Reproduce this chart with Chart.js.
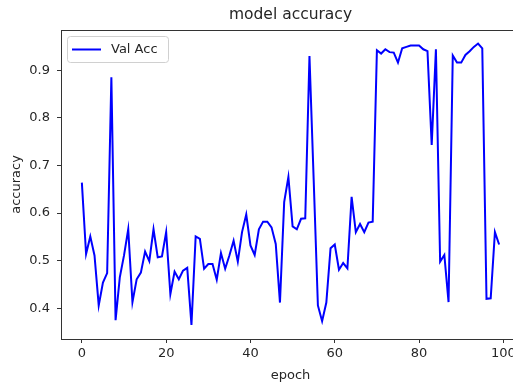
<!DOCTYPE html>
<html lang="en">
<head>
    <meta charset="UTF-8">
    <title>model accuracy</title>
    <script src="https://cdn.jsdelivr.net/npm/chart.js"></script>
    <style>
        html, body { margin: 0; padding: 0; background: #fff; overflow: hidden; }
        #wrap { width: 513px; height: 383px; overflow: hidden; }
    </style>
</head>
<body>
    <div id="wrap">
        <canvas id="acc-chart" width="522" height="383"></canvas>
    </div>

    <script>
        // validation accuracy per epoch
        const valAcc = [
            0.664, 0.514, 0.551, 0.511, 0.406, 0.454, 0.474, 0.885, 0.375, 0.465,
            0.511, 0.566, 0.413, 0.461, 0.475, 0.519, 0.499, 0.566, 0.507, 0.509,
            0.560, 0.430, 0.477, 0.461, 0.479, 0.485, 0.365, 0.551, 0.546, 0.483,
            0.493, 0.493, 0.460, 0.516, 0.483, 0.511, 0.542, 0.498, 0.560, 0.597,
            0.532, 0.512, 0.566, 0.582, 0.582, 0.570, 0.535, 0.412, 0.623, 0.676,
            0.572, 0.566, 0.588, 0.589, 0.930, 0.670, 0.406, 0.373, 0.412, 0.526,
            0.534, 0.481, 0.495, 0.484, 0.634, 0.560, 0.577, 0.560, 0.580, 0.582,
            0.942, 0.935, 0.944, 0.938, 0.937, 0.916, 0.946, 0.949, 0.952, 0.952,
            0.952, 0.944, 0.940, 0.743, 0.944, 0.498, 0.512, 0.413, 0.931, 0.916,
            0.916, 0.932, 0.940, 0.949, 0.956, 0.946, 0.420, 0.421, 0.560, 0.534
        ];
        const epochs = valAcc.map((v, i) => i);
        const xTicks = [0, 20, 40, 60, 80, 100];
        const yTicks = [0.4, 0.5, 0.6, 0.7, 0.8, 0.9];

        const FONT = "'DejaVu Sans', sans-serif";
        const TEXT = '#262626';

        // frame, title and legend box like matplotlib
        const decorations = {
            id: 'decorations',
            afterDatasetsDraw(chart) {
                const { ctx, chartArea: a } = chart;
                ctx.save();
                ctx.strokeStyle = '#333';
                ctx.lineWidth = 1;
                ctx.strokeRect(Math.round(a.left) + 0.5, Math.round(a.top) + 0.5,
                    Math.round(a.right - a.left), Math.round(a.bottom - a.top));

                // legend
                const bx = 67.5, by = 36.5, bw = 101, bh = 26, r = 3;
                ctx.fillStyle = 'rgba(255,255,255,0.8)';
                ctx.strokeStyle = '#d0d0d0';
                ctx.beginPath();
                ctx.roundRect(bx, by, bw, bh, r);
                ctx.fill();
                ctx.stroke();
                ctx.strokeStyle = '#0000ff';
                ctx.lineWidth = 2;
                ctx.beginPath();
                ctx.moveTo(72, 49.5);
                ctx.lineTo(101, 49.5);
                ctx.stroke();
                ctx.fillStyle = TEXT;
                ctx.font = '13px ' + FONT;
                ctx.textBaseline = 'middle';
                ctx.textAlign = 'left';
                ctx.fillText('Val Acc', 111, 50);

                // title
                ctx.font = '15.5px ' + FONT;
                ctx.textAlign = 'center';
                ctx.fillText('model accuracy', (a.left + a.right) / 2, 15);
                ctx.restore();
            }
        };

        const ctx = document.getElementById('acc-chart').getContext('2d');
        new Chart(ctx, {
            type: 'line',
            data: {
                labels: epochs,
                datasets: [{
                    label: 'Val Acc',
                    data: epochs.map((e, i) => ({ x: e, y: valAcc[i] })),
                    borderColor: '#0000ff',
                    borderWidth: 2,
                    pointRadius: 0,
                    tension: 0,
                    fill: false
                }]
            },
            options: {
                responsive: false,
                animation: false,
                devicePixelRatio: 1,
                layout: { padding: { top: 30, right: 2, left: 0, bottom: 0 } },
                plugins: {
                    legend: { display: false },
                    title: { display: false },
                    tooltip: { enabled: false }
                },
                scales: {
                    x: {
                        type: 'linear',
                        min: -4.95,
                        max: 103.95,
                        afterBuildTicks: s => { s.ticks = xTicks.map(v => ({ value: v })); },
                        afterFit: s => { s.height = 44; },
                        grid: { drawOnChartArea: false, drawTicks: true, tickLength: 4, color: '#333' },
                        border: { display: false },
                        ticks: { color: TEXT, font: { family: FONT, size: 13 }, padding: 3, maxRotation: 0 },
                        title: { display: true, text: 'epoch', color: TEXT, font: { family: FONT, size: 13 }, padding: { top: 0, bottom: 0 } }
                    },
                    y: {
                        min: 0.3355,
                        max: 0.9845,
                        afterBuildTicks: s => { s.ticks = yTicks.map(v => ({ value: v })); },
                        afterFit: s => { s.width = 61; },
                        grid: { drawOnChartArea: false, drawTicks: true, tickLength: 4, color: '#333' },
                        border: { display: false },
                        ticks: { color: TEXT, font: { family: FONT, size: 13 }, padding: 7, callback: v => v.toFixed(1) },
                        title: { display: true, text: 'accuracy', color: TEXT, font: { family: FONT, size: 13 }, padding: { top: 9, bottom: 0 } }
                    }
                }
            },
            plugins: [decorations]
        });
    </script>
</body>
</html>
